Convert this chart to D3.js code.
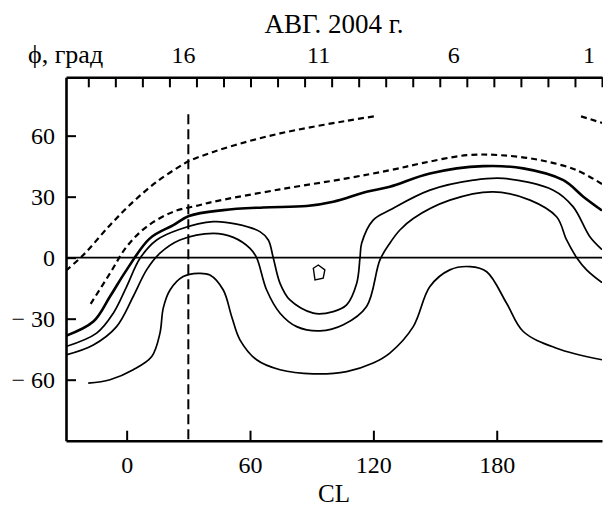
<!DOCTYPE html>
<html>
<head>
<meta charset="utf-8">
<script src="https://cdn.jsdelivr.net/npm/d3@7"></script>
<style>
  body { margin: 0; background: #fff; }
  svg text { font-family: "Liberation Serif", "Times New Roman", serif; fill: #000; }
</style>
</head>
<body>
<svg id="chart" width="603" height="506"></svg>
<script>
// CL (deg) vs latitude (deg) pairs
const dottedUpperA = [[-29.5,-6.3],[-21.1,1.3],[-8.1,16],[3.2,27.5],[14.6,37.3],[26,45],[30.3,47.5],[42.1,52],[58.4,57],[74.6,61.1],[90.8,64.4],[107,67.3],[120.8,69.6]]
const dottedUpperB = [[221,69.5],[231.2,66.3]]
const dottedLower = [[-17.5,-22.7],[-8.1,-7.7],[0,5.4],[9.7,15.2],[22.7,22.6],[35.7,25.9],[42.1,27.5],[74.6,33.6],[107,39],[128,43],[144.3,46.6],[165.4,50.4],[181.6,50.4],[201,48],[218.9,43],[231.2,36.2]]
const thickLine = [[-29.5,-38.4],[-16.2,-31.4],[-8.1,-19.1],[0,-6],[11.3,9.5],[22.7,16],[30.3,20.5],[47,23.4],[66.4,24.7],[87.5,25.4],[100.5,27.5],[116.7,32.4],[128,34.9],[147.5,41.4],[173.4,45],[192.9,43.9],[212.4,38.1],[222.1,30],[231.2,23.2]]
const lineB = [[-29.5,-43.7],[-14.6,-37.1],[-6.5,-27.3],[0,-14.2],[6.5,-0.3],[14.6,8.7],[25.9,14],[42.1,17.7],[53.5,16.5],[64.8,12.8],[68.9,8.7],[71.3,0],[74.6,-12.6],[79.4,-20.8],[90.8,-27.3],[100.5,-26.5],[107,-23.2],[111.9,-12.6],[113.5,0],[114.3,7.1],[119.9,18.5],[128,23.4],[147.5,33.2],[168.6,38.1],[183.2,39],[207.5,33.2],[217.2,25],[225.3,10.3],[231.2,4]]
const lineC = [[-29.5,-47.8],[-16.2,-42.9],[-4.9,-33.9],[3.2,-19.1],[9.7,-6],[16.2,2.2],[25.9,8.7],[42.1,12],[51.9,10],[60,4.6],[63.2,0],[68.1,-15.9],[74.6,-27.3],[82.7,-33.9],[94,-36],[105.4,-33],[116.7,-24],[123.2,-1.1],[128,7.1],[132.9,13.6],[139.4,19.3],[157.2,28.3],[178.3,32.4],[196.2,28.3],[209.1,20.1],[214,8.7],[218.9,0],[223.7,-6],[231.2,-12.3]]
const lineD = [[-18.7,-61.7],[-8.1,-60],[3.2,-55.1],[12.2,-48.6],[16.2,-37.1],[17.8,-24.8],[21.1,-15.9],[27.5,-9.3],[34.8,-7.7],[40.5,-8.5],[47,-15.9],[51.1,-29],[55.1,-40.4],[63.2,-50.2],[74.6,-55.1],[90.8,-57.1],[107,-56],[119.9,-51.8],[128,-46.9],[139.4,-33.9],[147.5,-14.2],[157.2,-6],[167,-4.4],[175.1,-6.9],[184.8,-22.4],[192.9,-36.3],[209.1,-44.5],[231.2,-50.2]]
const smallLoop = [[90.8,-5.2],[93.2,-3.6],[96.4,-6],[95.6,-10.1],[91.6,-10.9]]

const markerCL = 30
const markerLat = [70.5, -90]

const clTicks = [0, 60, 120, 180]
const latTicks = [60, 30, 0, -30, -60]
const dayBoundaries = d3.range(19.5, 0, -1)
const dayLabels = [16, 11, 6, 1]

const margin = { top: 77.3, right: 1, bottom: 65.3, left: 66 }
const width = 603 - margin.left - margin.right
const height = 506 - margin.top - margin.bottom

const svg = d3.select('#chart')
const chart = svg.append('g')
    .attr('transform', `translate(${margin.left},${margin.top})`)

const x = d3.scaleLinear().domain([-29.5, 231.2]).range([0, width])
const y = d3.scaleLinear().domain([-90, 88.7]).range([height, 0])
// day of August 2004 along the top (days run backwards as CL grows)
const xDay = d3.scaleLinear().domain([20.325, 0.5]).range([0, width])

chart.append('clipPath').attr('id', 'plot-clip')
    .append('rect').attr('width', width).attr('height', height)

const plot = chart.append('g').attr('clip-path', 'url(#plot-clip)')

const line = d3.line()
    .x(d => x(d[0]))
    .y(d => y(d[1]))
    .curve(d3.curveCatmullRom.alpha(0.5))

// equator
plot.append('line')
    .attr('x1', 0).attr('x2', width)
    .attr('y1', y(0)).attr('y2', y(0))
    .attr('stroke', '#000').attr('stroke-width', 1.8)

plot.append('line')
    .attr('x1', x(markerCL)).attr('x2', x(markerCL))
    .attr('y1', y(markerLat[0])).attr('y2', y(markerLat[1]))
    .attr('stroke', '#000').attr('stroke-width', 2)
    .attr('stroke-dasharray', '10,5')

const curves = [
    { pts: dottedUpperA, w: 2.2, dash: '6,4' },
    { pts: dottedUpperB, w: 2.2, dash: '6,4' },
    { pts: dottedLower, w: 2.2, dash: '6,4' },
    { pts: thickLine, w: 2.6, dash: null },
    { pts: lineB, w: 1.7, dash: null },
    { pts: lineC, w: 1.7, dash: null },
    { pts: lineD, w: 1.7, dash: null }
]

plot.selectAll('path.curve')
    .data(curves)
    .join('path')
        .attr('class', 'curve')
        .attr('d', d => line(d.pts))
        .attr('fill', 'none')
        .attr('stroke', '#000')
        .attr('stroke-width', d => d.w)
        .attr('stroke-dasharray', d => d.dash)
        .attr('stroke-linejoin', 'round')

plot.append('path')
    .attr('d', d3.line().x(d => x(d[0])).y(d => y(d[1])).curve(d3.curveLinearClosed)(smallLoop))
    .attr('fill', 'none')
    .attr('stroke', '#000')
    .attr('stroke-width', 1.4)

// axes, ticks pointing inward
const fmtLat = d => d < 0 ? '\u2212 ' + Math.abs(d) : String(d)

const xAxisG = chart.append('g')
    .attr('transform', `translate(0,${height})`)
    .call(d3.axisBottom(x).tickValues(clTicks).tickSize(-10).tickSizeOuter(0).tickPadding(15.6))

const yAxisG = chart.append('g')
    .call(d3.axisLeft(y).tickValues(latTicks).tickFormat(fmtLat).tickSize(-10).tickSizeOuter(0).tickPadding(11))

const topAxisG = chart.append('g')
    .call(d3.axisTop(xDay).tickValues(dayBoundaries).tickFormat('').tickSize(-10).tickSizeOuter(0))

const topLabelG = chart.append('g')
    .call(d3.axisTop(xDay).tickValues(dayLabels).tickSize(0).tickPadding(14))
topLabelG.select('.domain').remove()

chart.selectAll('.domain').attr('stroke-width', 2.6)
chart.selectAll('.tick line').attr('stroke-width', 2)
chart.selectAll('.tick text')
    .style('font-family', '"Liberation Serif", serif')
    .style('font-size', '24px')

svg.append('text')
    .attr('x', margin.left + width / 2).attr('y', 502)
    .attr('text-anchor', 'middle')
    .style('font-size', '25px')
    .text('CL')

svg.append('text')
    .attr('x', 28).attr('y', 63.3)
    .style('font-size', '26px')
    .text('\u03d5, град')

svg.append('text')
    .attr('x', margin.left + width / 2).attr('y', 33.3)
    .attr('text-anchor', 'middle')
    .style('font-size', '27px')
    .text('АВГ. 2004 г.')
</script>
</body>
</html>
